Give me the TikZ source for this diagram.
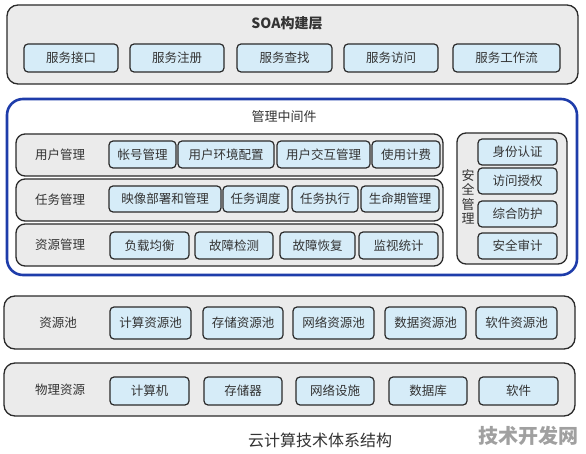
\documentclass[tikz,border=0pt]{standalone}
\usepackage{fontspec}
\newfontfamily\cjk{Noto Sans CJK SC}
\definecolor{graybg}{HTML}{EBEBEB}
\definecolor{bluebg}{HTML}{D6ECF8}
\definecolor{edge}{HTML}{2A2A2A}
\definecolor{midblue}{HTML}{1E3CAA}
\definecolor{txt}{HTML}{333333}
\definecolor{wmark}{HTML}{A0A0A0}
\newcommand\bx[7]{\node[#1, minimum width={(#5-#3)*1pt}, minimum height={(#6-#4)*1pt}] (#2) at ({(#3+#5)/2},{(#4+#6)/2}) {#7};}
\tikzset{
  layer/.style={draw=edge, line width=1.3pt, fill=graybg, rounded corners=11pt, inner sep=0pt},
  rowbox/.style={draw=edge, line width=1.3pt, fill=graybg, rounded corners=9pt, inner sep=0pt},
  item/.style={draw=edge, line width=1.2pt, fill=bluebg, rounded corners=4pt, inner sep=0pt,
    text=txt, font=\cjk\fontsize{12.5}{14}\selectfont},
  lbl/.style={text=txt, inner sep=0pt, font=\cjk\fontsize{12.5}{14}\selectfont},
  mgmt/.style={draw=midblue, line width=2.6pt, fill=white, rounded corners=16pt, inner sep=0pt},
}
\begin{document}
\begin{tikzpicture}[x=1pt,y=-1pt]
\useasboundingbox[fill=white] (0,0) rectangle (586,454);
% SOA layer
\bx{layer}{soa}{7}{5}{578}{84}{}
\node[lbl, font=\cjk\bfseries\fontsize{14}{16}\selectfont] (soat) at (287,23) {SOA构建层};
\bx{item}{s1}{24}{44}{118}{72}{服务接口}
\bx{item}{s2}{130}{44}{224}{72}{服务注册}
\bx{item}{s3}{237}{44}{332}{72}{服务查找}
\bx{item}{s4}{344}{44}{438}{72}{服务访问}
\bx{item}{s5}{453}{44}{560}{72}{服务工作流}
% management middleware
\bx{mgmt}{mg}{7}{99}{577}{275}{}
\node[lbl, font=\cjk\fontsize{13}{15}\selectfont] (mgt) at (284,117) {管理中间件};
\bx{rowbox}{r1}{16}{134}{443}{176}{}
\bx{rowbox}{r2}{16}{179}{443}{221}{}
\bx{rowbox}{r3}{16}{224}{443}{266}{}
\node[lbl] (r1l) at (60,155) {用户管理};
\node[lbl] (r2l) at (60,200) {任务管理};
\node[lbl] (r3l) at (60,245) {资源管理};
\bx{item}{u1}{109}{141}{176}{168}{帐号管理}
\bx{item}{u2}{178}{141}{274}{168}{用户环境配置}
\bx{item}{u3}{277}{141}{370}{168}{用户交互管理}
\bx{item}{u4}{372}{141}{440}{168}{使用计费}
\bx{item}{t1}{109}{186}{221}{212}{映像部署和管理}
\bx{item}{t2}{223}{186}{288}{212}{任务调度}
\bx{item}{t3}{292}{186}{358}{212}{任务执行}
\bx{item}{t4}{361}{186}{439}{212}{生命期管理}
\bx{item}{z1}{110}{232}{189}{259}{负载均衡}
\bx{item}{z2}{195}{232}{273}{259}{故障检测}
\bx{item}{z3}{280}{232}{355}{259}{故障恢复}
\bx{item}{z4}{359}{232}{438}{259}{监视统计}
% security
\bx{rowbox}{sec}{457}{133}{567}{264}{}
\node[lbl, align=center, font=\cjk\fontsize{13}{14.5}\selectfont] (secl) at (468,197) {安\\全\\管\\理};
\bx{item}{a1}{478}{139}{557}{165}{身份认证}
\bx{item}{a2}{478}{168}{557}{194}{访问授权}
\bx{item}{a3}{478}{201}{557}{227}{综合防护}
\bx{item}{a4}{478}{233}{557}{259}{安全审计}
% resource pool
\bx{layer}{pool}{4}{296}{575}{349}{}
\node[lbl] (pooll) at (58,323) {资源池};
\bx{item}{p1}{110}{307}{191}{339}{计算资源池}
\bx{item}{p2}{203}{307}{283}{339}{存储资源池}
\bx{item}{p3}{293}{307}{374}{339}{网络资源池}
\bx{item}{p4}{385}{307}{466}{339}{数据资源池}
\bx{item}{p5}{476}{307}{557}{339}{软件资源池}
% physical
\bx{layer}{phys}{4}{363}{575}{416}{}
\node[lbl] (physl) at (60,390) {物理资源};
\bx{item}{h1}{110}{377}{189}{405}{计算机}
\bx{item}{h2}{204}{377}{282}{405}{存储器}
\bx{item}{h3}{296}{377}{374}{405}{网络设施}
\bx{item}{h4}{389}{377}{467}{405}{数据库}
\bx{item}{h5}{479}{377}{558}{405}{软件}
% captions
\node[lbl, font=\cjk\fontsize{16}{18}\selectfont] (cap) at (320,440) {云计算技术体系结构};
\node[inner sep=0pt, text=wmark, font=\cjk\bfseries\fontsize{20}{22}\selectfont] (wm) at (528,436) {技术开发网};
\end{tikzpicture}
\end{document}
